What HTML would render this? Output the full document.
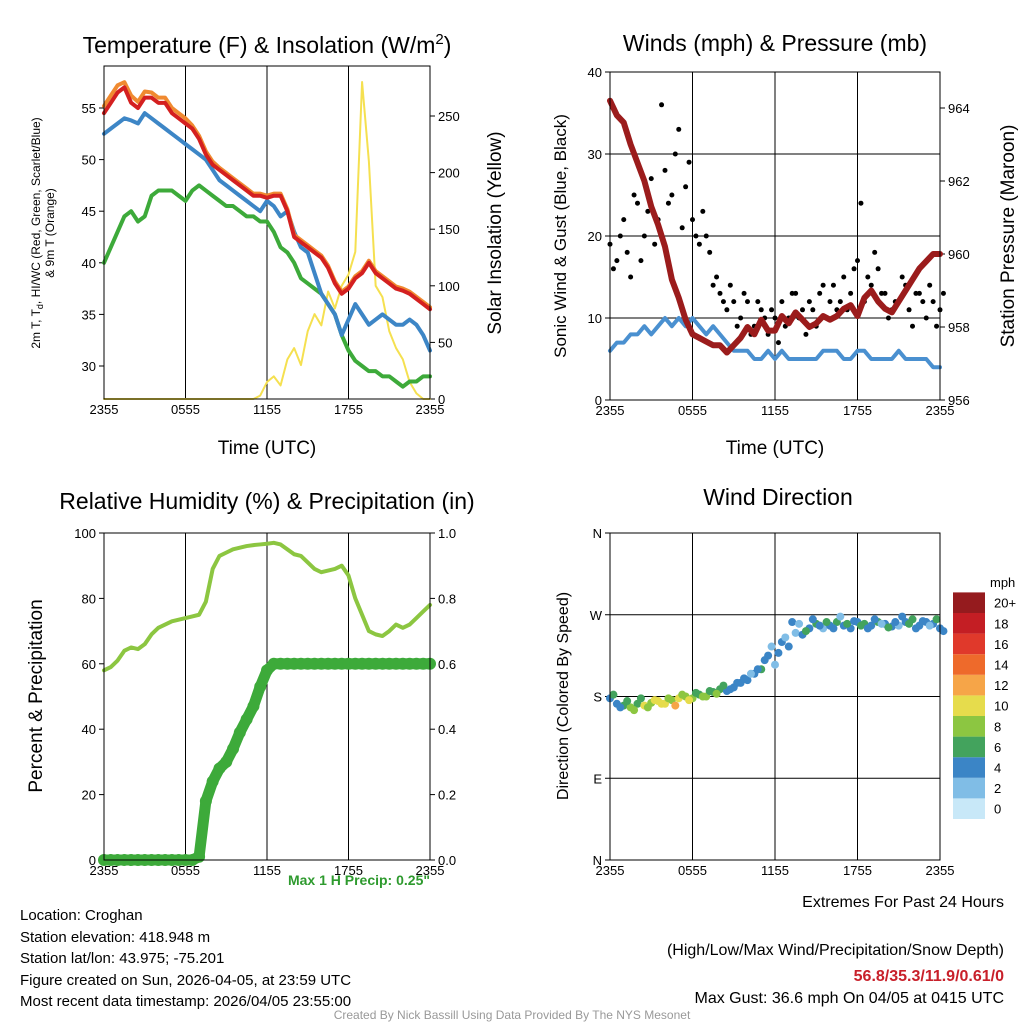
<!DOCTYPE html>
<html><head><meta charset="utf-8">
<style>
body{margin:0;background:#fff;}
svg{display:block;font-family:"Liberation Sans",sans-serif;}
</style></head>
<body>
<svg id="s" width="1024" height="1024" viewBox="0 0 1024 1024" xmlns="http://www.w3.org/2000/svg">
<rect width="1024" height="1024" fill="#fff"/>
<text x="267" y="53" font-size="23" text-anchor="middle">Temperature (F) &amp; Insolation (W/m<tspan dy="-9" font-size="15">2</tspan><tspan dy="9">)</tspan></text>
<text x="775" y="51" font-size="23" text-anchor="middle">Winds (mph) &amp; Pressure (mb)</text>
<text x="267" y="509" font-size="23" text-anchor="middle">Relative Humidity (%) &amp; Precipitation (in)</text>
<text x="778" y="505" font-size="23" text-anchor="middle">Wind Direction</text>

<text transform="translate(40,233) rotate(-90)" font-size="12" text-anchor="middle">2m T, T<tspan font-size="9" dy="3">d</tspan><tspan dy="-3">, HI/WC (Red, Green, Scarlet/Blue)</tspan></text>
<text transform="translate(54,233) rotate(-90)" font-size="12" text-anchor="middle">&amp; 9m T (Orange)</text>
<text transform="translate(501,233) rotate(-90)" font-size="19" text-anchor="middle">Solar Insolation (Yellow)</text>
<text x="267" y="454" font-size="19" text-anchor="middle">Time (UTC)</text>
<text x="775" y="454" font-size="19" text-anchor="middle">Time (UTC)</text>
<text transform="translate(566,236) rotate(-90)" font-size="17" text-anchor="middle">Sonic Wind &amp; Gust (Blue, Black)</text>
<text transform="translate(1014,236) rotate(-90)" font-size="19" text-anchor="middle">Station Pressure (Maroon)</text>
<text transform="translate(42,696) rotate(-90)" font-size="19" text-anchor="middle">Percent &amp; Precipitation</text>
<text transform="translate(568,696) rotate(-90)" font-size="16" text-anchor="middle">Direction (Colored By Speed)</text>

<text x="430" y="885" font-size="14" font-weight="bold" fill="#2e9a2e" text-anchor="end">Max 1 H Precip: 0.25"</text>
<g font-size="15">
<text x="20" y="920">Location: Croghan</text>
<text x="20" y="942">Station elevation: 418.948 m</text>
<text x="20" y="963">Station lat/lon: 43.975; -75.201</text>
<text x="20" y="985">Figure created on Sun, 2026-04-05, at 23:59 UTC</text>
<text x="20" y="1006">Most recent data timestamp: 2026/04/05 23:55:00</text>
</g>
<g font-size="16" text-anchor="end">
<text x="1004" y="907">Extremes For Past 24 Hours</text>
<text x="1004" y="955">(High/Low/Max Wind/Precipitation/Snow Depth)</text>
<text x="1004" y="981" font-weight="bold" fill="#c8202a">56.8/35.3/11.9/0.61/0</text>
<text x="1004" y="1003">Max Gust: 36.6 mph On 04/05 at 0415 UTC</text>
</g>
<text x="512" y="1019" font-size="12" fill="#999" text-anchor="middle">Created By Nick Bassill Using Data Provided By The NYS Mesonet</text>
<g id="g"></g>
</svg>
<script>
const xTicks=["2355","0555","1155","1755","2355"];
const tempRed=[54.5,55.5,56.5,57,55.5,55,56,56,55.5,55.5,54.5,54,53.5,53,52,50.5,49.5,49,48.5,48,47.5,47,46.5,46.5,46.3,46.5,46.5,45,42.5,42,41.5,41,40.5,39.5,38,37,37.5,38.5,39,40,39,38.5,38,37.5,37.3,37,36.5,36,35.5];
const tempOrange=[55.2,56.2,57.2,57.5,56.2,55.6,56.6,56.5,56,56,55,54.5,54,53.3,52.3,50.8,49.8,49.2,48.7,48.2,47.7,47.2,46.7,46.7,46.5,46.7,46.7,45.2,42.7,42.2,41.7,41.2,40.7,39.7,38.2,37.2,37.7,38.7,39.2,40.2,39.2,38.7,38.2,37.7,37.5,37.2,36.7,36.2,35.7];
const tempBlue=[52.5,53,53.5,54,53.8,53.5,54.5,54,53.5,53,52.5,52,51.5,51,50.5,50,49,48,47.5,47,46.5,46,45.5,45,46,45.5,44.5,45,43,41.5,41,39,37,36,35,33,34.5,36,35,34,34.5,35,34.5,34,34,34.5,34,33,31.5];
const tempGreen=[40,41.5,43,44.5,45,44,44.5,46.5,47,47,47,46.5,46,47,47.5,47,46.5,46,45.5,45.5,45,44.5,44.5,44,44,43,41.5,41,40,38.5,38,37.5,37,36,35,33,31.5,30.5,30,29.5,29.5,29,29,28.5,28,28.5,28.5,29,29];
const solar=[0,0,0,0,0,0,0,0,0,0,0,0,0,0,0,0,0,0,0,0,0,0,0,3,15,20,12,35,45,30,60,75,65,95,80,100,110,130,280,210,100,90,60,45,35,15,5,0,0];
const windSpd=[6,7,7,8,8,9,8,9,10,9,10,9,10,9,8,9,8,7,6,6,6,5,5,6,5,6,5,5,5,5,5,6,6,6,5,5,6,6,5,5,5,5,6,5,5,5,5,4,4];
const gustA=[19,17,22,15,24,20,27,22,28,25,33,26,22,19,20,14,13,11,12,10,12,9,11,8,10,12,10,13,11,12,9,14,12,11,15,13,17,12,14,16,13,11,12,14,9,13,10,12,11];
const gustB=[16,20,18,25,17,23,19,36,24,30,21,29,20,23,18,15,12,14,9,13,8,12,10,11,7,9,13,10,8,11,13,10,14,12,11,16,24,15,18,13,10,12,15,11,13,12,14,9,13];
const pressure=[964.2,963.8,963.6,963,962.5,962,961.3,960.8,960.2,959.3,958.8,958.2,957.8,957.7,957.6,957.5,957.5,957.3,957.5,957.7,958,957.8,958.2,957.9,957.9,958.3,958.1,958.4,958.2,958,958.1,958.3,958.2,958.3,958.5,958.6,958.3,958.8,959,958.7,958.5,958.4,958.7,959,959.3,959.6,959.8,960,960];
const rh=[58,59,61,64,65,64.5,66,69,71,72,73,73.5,74,74.5,75,79,89,93,94,95,95.5,96,96.3,96.5,96.7,97,96.5,95,93.5,93,91,89,88,88.5,89,90,87,80,75,70,69,68.5,70,72,71,72,74,76,78];
const precip=[0,0,0,0,0,0,0,0,0,0,0,0,0,0,0.01,0.18,0.24,0.28,0.3,0.34,0.39,0.43,0.47,0.53,0.58,0.6,0.6,0.6,0.6,0.6,0.6,0.6,0.6,0.6,0.6,0.6,0.6,0.6,0.6,0.6,0.6,0.6,0.6,0.6,0.6,0.6,0.6,0.6,0.6];
const dirA=[178,172,170,168,172,170,173,175,172,176,178,180,178,182,180,185,188,186,190,195,198,205,210,225,215,240,235,250,248,255,260,255,258,262,258,255,262,260,258,262,260,257,258,262,265,258,262,260,255];
const spdA=[5,4,6,8,7,10,9,10,11,9,10,8,9,7,8,6,7,5,4,5,5,4,6,4,3,4,4,2,5,4,6,3,5,6,4,5,4,7,5,6,4,5,3,4,6,4,5,4,4];
const dirB=[182,168,175,165,178,168,176,172,178,170,182,176,184,180,186,183,192,188,195,200,205,210,220,235,228,245,262,260,252,265,258,262,255,268,260,263,258,255,265,260,256,262,268,260,255,263,258,265,252];
const spdB=[6,5,7,9,6,8,11,10,9,12,8,10,7,9,6,8,6,5,4,4,3,5,4,3,5,2,4,3,6,5,4,6,5,3,7,5,6,4,5,3,6,4,5,7,4,5,3,6,4];
const cbLabels=["0","2","4","6","8","10","12","14","16","18","20+"];
const cbColors=["#c8e8f8","#80bde6","#3b85c6","#43a35d","#8cc641","#e6dc4c","#f6a548","#ee6a2b","#e0392b","#c41e24","#951b1e"];

const NS="http://www.w3.org/2000/svg";
const G=document.getElementById('g');
function el(t,a,p){const e=document.createElementNS(NS,t);for(const k in a)e.setAttribute(k,a[k]);(p||G).appendChild(e);return e;}
function lin(d0,d1,r0,r1){return v=>r0+(v-d0)*(r1-r0)/(d1-d0);}
function panel(name,x0,x1,y0,y1,hgrid,lt,rt){
  const x=lin(0,48,x0,x1);
  const g=el('g',{});
  
  
  xTicks.forEach((t,i)=>{const px=x(i*12);
    el('line',{x1:px,x2:px,y1:y0,y2:y1,stroke:'#000','stroke-width':1},g);
    const tx=el('text',{x:px,y:y1+15,'font-size':13,'text-anchor':'middle'},g);tx.textContent=t;
    
    
  });
  lt.forEach(([v,py])=>{
    el('line',{x1:x0-5,x2:x0,y1:py,y2:py,stroke:'#000'},g);
    if(hgrid)el('line',{x1:x0,x2:x1,y1:py,y2:py,stroke:'#000','stroke-width':1},g);
    const tx=el('text',{x:x0-8,y:py+5,'font-size':13,'text-anchor':'end'},g);tx.textContent=v;
    
    
  });
  (rt||[]).forEach(([v,py])=>{
    el('line',{x1:x1,x2:x1+5,y1:py,y2:py,stroke:'#000'},g);
    const tx=el('text',{x:x1+8,y:py+5,'font-size':13},g);tx.textContent=v;
    
    
  });
  return {x,g};
}
function line(g,xf,yf,arr,color,w,name){
  const p=el('polyline',{points:arr.map((v,i)=>xf(i)+','+yf(v)).join(' '),fill:'none',stroke:color,'stroke-width':w,'stroke-linejoin':'round','stroke-linecap':'round'},g);
  
  
  return p;
}
// Panel 1
{
 const yT=lin(30,55,366,108), yS=lin(0,250,399,116);
 const lt=[30,35,40,45,50,55].map(v=>[v,yT(v)]);
 const rt=[0,50,100,150,200,250].map(v=>[v,yS(v)]);
 const P=panel('temp-panel',104,430,66,399,false,lt,rt);
 line(P.g,P.x,yS,solar,'#f5e050',2,'solar-line');
 line(P.g,P.x,yT,tempGreen,'#3daa3a',4,'dewpoint-line');
 line(P.g,P.x,yT,tempBlue,'#3d86c6',4,'windchill-line');
 line(P.g,P.x,yT,tempOrange,'#f08a30',4,'temp-9m-line');
 line(P.g,P.x,yT,tempRed,'#d42020',4,'temp-2m-line');
 el('rect',{x:104,y:66,width:326,height:333,fill:'none',stroke:'#000'},P.g);
}
// Panel 2
{
 const yW=lin(0,40,400,72), yP=lin(956,964,400,108);
 const lt=[0,10,20,30,40].map(v=>[v,yW(v)]);
 const rt=[956,958,960,962,964].map(v=>[v,yP(v)]);
 const P=panel('wind-panel',610,940,72,400,true,lt,rt);
 line(P.g,P.x,yW,windSpd,'#4a90d0',4,'wind-speed-line');
 gustA.forEach((v,i)=>{const c=el('circle',{cx:P.x(i),cy:yW(v),r:2.5,fill:'#000'},P.g);
  
  });
 gustB.forEach((v,i)=>{const c=el('circle',{cx:P.x(i+0.5),cy:yW(v),r:2.5,fill:'#000'},P.g);
  
  });
 line(P.g,P.x,yP,pressure,'#9b1c1c',6,'pressure-line');
 el('rect',{x:610,y:72,width:330,height:328,fill:'none',stroke:'#000'},P.g);
}
// Panel 3
{
 const yR=lin(0,100,860,533), yQ=lin(0,1,860,533);
 const lt=[0,20,40,60,80,100].map(v=>[v,yR(v)]);
 const rt=[0,0.2,0.4,0.6,0.8,1.0].map(v=>[v.toFixed(1),yQ(v)]);
 const P=panel('rh-panel',104,430,533,860,false,lt,rt);
 line(P.g,P.x,yR,rh,'#8cc641',4,'rh-line');
 line(P.g,P.x,yQ,precip,'#3daa3a',11,'precip-line');
 precip.forEach((v,i)=>{const c=el('circle',{cx:P.x(i),cy:yQ(v),r:6,fill:'#3daa3a'},P.g);
  
  });
 el('rect',{x:104,y:533,width:326,height:327,fill:'none',stroke:'#000'},P.g);
}
// Panel 4
{
 const yD=lin(0,360,860,533);
 const lt=[['N',0],['E',90],['S',180],['W',270],['N',360]].map(([l,v])=>[l,yD(v)]);
 const P=panel('direction-panel',610,940,533,860,true,lt,null);
 const col=s=>cbColors[Math.min(10,Math.floor(s/2))];
 dirA.forEach((v,i)=>{const c=el('circle',{cx:P.x(i),cy:yD(v),r:4,fill:col(spdA[i])},P.g);
  
  });
 dirB.forEach((v,i)=>{const c=el('circle',{cx:P.x(i+0.5),cy:yD(v),r:4,fill:col(spdB[i])},P.g);
  
  });
 el('rect',{x:610,y:533,width:330,height:327,fill:'none',stroke:'#000'},P.g);
 const cb=el('g',{});
 
 
 const t=el('text',{x:990,y:587,'font-size':13},cb);t.textContent='mph';
 const h=20.6;
 cbLabels.forEach((l,i)=>{const yy=819-(i+1)*h;
  const r=el('rect',{x:953,y:yy,width:32,height:h,fill:cbColors[i]},cb);
  
  
  const tx=el('text',{x:994,y:yy+h/2+5,'font-size':13},cb);tx.textContent=l;
  
  
 });
}
</script>
</body></html>
